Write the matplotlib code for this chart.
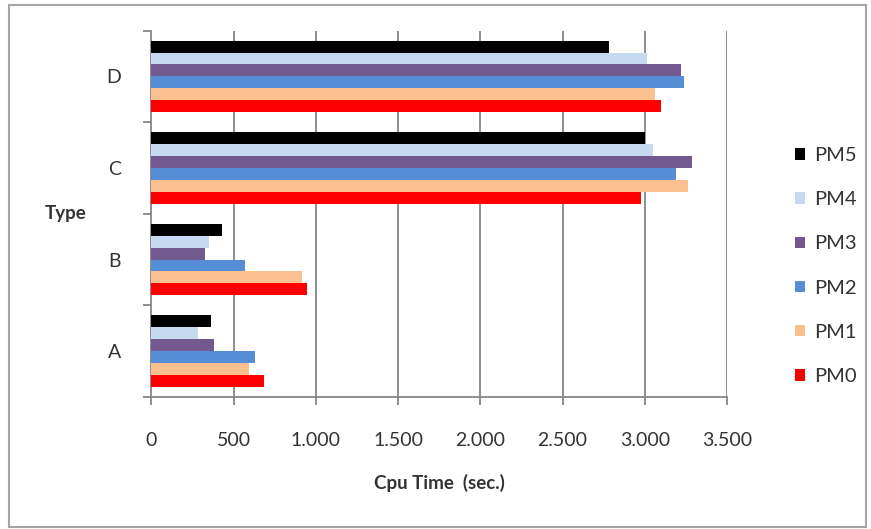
import numpy as np
import matplotlib.pyplot as plt
from matplotlib.patches import Rectangle
from matplotlib.ticker import FuncFormatter, FixedLocator

plt.rcParams['font.family'] = ['Lato', 'DejaVu Sans']

# CPU time per type and method
categories = ['A', 'B', 'C', 'D']
pm0 = [683, 947, 2974, 3096]
pm1 = [591, 915, 3262, 3061]
pm2 = [628, 571, 3187, 3241]
pm3 = [382, 327, 3285, 3220]
pm4 = [280, 348, 3051, 3016]
pm5 = [362, 427, 3000, 2785]

series = [('PM0', pm0, '#ff0000'),
          ('PM1', pm1, '#fac090'),
          ('PM2', pm2, '#558ed5'),
          ('PM3', pm3, '#72598f'),
          ('PM4', pm4, '#c6d9f1'),
          ('PM5', pm5, '#000000')]

fig = plt.figure(figsize=(8.71, 5.29), dpi=100)
ax = fig.add_axes([0.1739, 0.2495, 0.8347 - 0.1739, 0.9423 - 0.2495])

# outer chart frame
fig.patches.append(Rectangle((9 / 871, 1 - 527 / 529), 857 / 871, 522 / 529,
                             transform=fig.transFigure, fill=False,
                             edgecolor='#a6a6a6', linewidth=1.5))

y = np.arange(len(categories))
h = 0.13
bars = {}
for j, (name, vals, col) in enumerate(series):
    bars[name] = ax.barh(y + (j - 2.5) * h, vals, height=h, color=col,
                         linewidth=0, zorder=3)

grid_col = '#868686'
txt_col = '#333333'
ax.set_xlim(0, 3500)
ax.set_ylim(-0.5, 3.5)
ax.set_xticks(np.arange(0, 3501, 500))
ax.xaxis.set_major_formatter(FuncFormatter(lambda v, p: f'{int(v):,}'.replace(',', '.')))
for xv in np.arange(500, 3501, 500):
    ax.axvline(xv, color=grid_col, linewidth=1.3, zorder=1)

ax.yaxis.set_major_locator(FixedLocator([-0.5, 0.5, 1.5, 2.5, 3.5]))
ax.yaxis.set_minor_locator(FixedLocator(y))
ax.set_yticklabels([], minor=False)
ax.set_yticklabels(categories, minor=True)
ax.tick_params(axis='y', which='major', length=6, width=1.3, color=grid_col)
ax.tick_params(axis='y', which='minor', length=0, pad=22, labelsize=14,
               labelcolor=txt_col)
ax.tick_params(axis='x', length=6, width=1.3, color=grid_col, pad=19,
               labelsize=14, labelcolor=txt_col)

for s in ['top', 'right']:
    ax.spines[s].set_visible(False)
for s in ['left', 'bottom']:
    ax.spines[s].set_color(grid_col)
    ax.spines[s].set_linewidth(1.3)

ax.set_xlabel('Cpu Time  (sec.)', fontsize=13.5, fontweight='bold',
              color=txt_col, labelpad=18)
fig.text(66 / 871, 1 - 213 / 529, 'Type', fontsize=13.5, fontweight='bold',
         color=txt_col, ha='center', va='center')

handles = [bars[n] for n, _, _ in series[::-1]]
labels = [n for n, _, _ in series[::-1]]
fig.legend(handles, labels, loc='center left',
           bbox_to_anchor=(777 / 871, 1 - 266 / 529), frameon=False,
           fontsize=14.5, handlelength=0.5, handleheight=0.5,
           handletextpad=0.45, labelspacing=1.35, labelcolor=txt_col)

fig.savefig('out.png', dpi=100)
